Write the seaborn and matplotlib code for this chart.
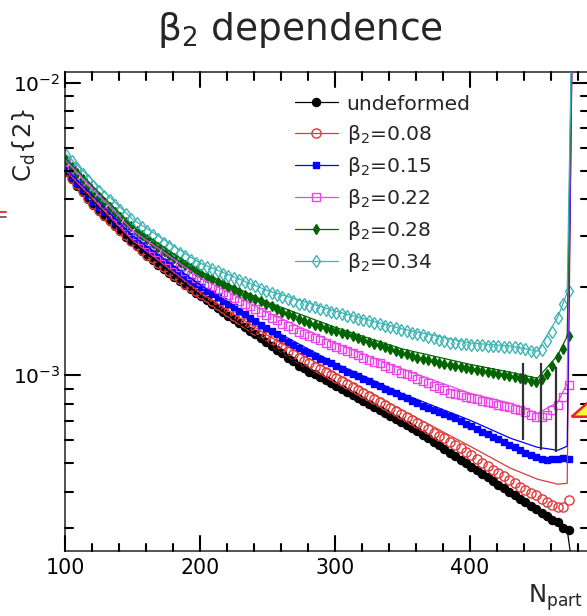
import numpy as np
import matplotlib
matplotlib.use("Agg")
import matplotlib.pyplot as plt
import seaborn as sns
from matplotlib.lines import Line2D
from matplotlib.patches import Polygon
from matplotlib.ticker import MultipleLocator, LogLocator, NullFormatter, LogFormatterMathtext

# ---------------- data (values in units of 1e-3) ----------------
npart = [101, 105, 109, 113, 117, 121, 125, 129, 133, 137, 141, 145, 149, 153, 157, 161,
         165, 169, 173, 177, 181, 185, 189, 193, 197, 201, 205, 209, 213, 217, 221, 225,
         229, 233, 237, 241, 245, 249, 253, 257, 261, 265, 269, 273, 277, 281, 285, 289,
         293, 297, 301, 305, 309, 313, 317, 321, 325, 329, 333, 337, 341, 345, 349, 353,
         357, 361, 365, 369, 373, 377, 381, 385, 389, 393, 397, 401, 405, 409, 413, 417,
         421, 425, 429, 433, 437, 441, 445, 449, 453, 457, 461, 465, 469, 473]

undeformed = [4.95, 4.70, 4.46, 4.23, 4.02, 3.82, 3.66, 3.52, 3.38, 3.24, 3.11, 2.98, 2.87, 2.76, 2.66, 2.57,
              2.48, 2.39, 2.31, 2.24, 2.17, 2.10, 2.04, 1.97, 1.92, 1.87, 1.81, 1.76, 1.70, 1.65, 1.60, 1.56,
              1.51, 1.46, 1.42, 1.38, 1.34, 1.30, 1.26, 1.22, 1.19, 1.15, 1.12, 1.08, 1.06, 1.03, 1.01, 0.985,
              0.962, 0.940, 0.918, 0.896, 0.875, 0.855, 0.835, 0.816, 0.797, 0.778, 0.760, 0.742, 0.725, 0.708, 0.691, 0.675,
              0.659, 0.644, 0.626, 0.609, 0.592, 0.576, 0.560, 0.544, 0.529, 0.514, 0.500, 0.486, 0.473, 0.460, 0.447, 0.435,
              0.423, 0.411, 0.400, 0.388, 0.378, 0.368, 0.358, 0.348, 0.339, 0.330, 0.321, 0.314, 0.300, 0.295]

beta008 = [4.99, 4.74, 4.50, 4.27, 4.05, 3.85, 3.69, 3.54, 3.40, 3.27, 3.13, 3.01, 2.89, 2.79, 2.69, 2.59,
           2.51, 2.42, 2.34, 2.27, 2.20, 2.13, 2.06, 2.00, 1.95, 1.90, 1.85, 1.80, 1.74, 1.70, 1.65, 1.60,
           1.56, 1.51, 1.47, 1.43, 1.40, 1.36, 1.32, 1.28, 1.25, 1.21, 1.18, 1.15, 1.12, 1.10, 1.07, 1.05,
           1.025, 1.00, 0.977, 0.955, 0.932, 0.911, 0.889, 0.869, 0.848, 0.828, 0.809, 0.790, 0.772, 0.754, 0.736, 0.719,
           0.702, 0.686, 0.669, 0.653, 0.637, 0.622, 0.608, 0.593, 0.578, 0.562, 0.546, 0.532, 0.517, 0.503, 0.490, 0.476,
           0.463, 0.451, 0.438, 0.427, 0.415, 0.404, 0.395, 0.389, 0.377, 0.368, 0.359, 0.354, 0.354, 0.374]

beta015 = [5.03, 4.78, 4.55, 4.33, 4.12, 3.93, 3.78, 3.63, 3.50, 3.36, 3.24, 3.11, 3.00, 2.90, 2.80, 2.70,
           2.62, 2.53, 2.45, 2.38, 2.31, 2.24, 2.17, 2.11, 2.06, 2.01, 1.95, 1.90, 1.85, 1.80, 1.76, 1.71,
           1.66, 1.62, 1.57, 1.53, 1.49, 1.45, 1.42, 1.38, 1.34, 1.30, 1.27, 1.24, 1.21, 1.19, 1.16, 1.14,
           1.12, 1.10, 1.075, 1.05, 1.03, 1.01, 0.994, 0.974, 0.955, 0.937, 0.919, 0.901, 0.884, 0.867, 0.850, 0.833,
           0.817, 0.801, 0.786, 0.774, 0.762, 0.751, 0.740, 0.728, 0.713, 0.698, 0.684, 0.670, 0.656, 0.642, 0.629, 0.617,
           0.604, 0.591, 0.579, 0.567, 0.555, 0.541, 0.533, 0.524, 0.516, 0.512, 0.516, 0.516, 0.520, 0.516]

beta022 = [5.35, 5.08, 4.83, 4.59, 4.36, 4.14, 3.97, 3.81, 3.66, 3.52, 3.38, 3.24, 3.12, 3.02, 2.91, 2.82,
           2.73, 2.64, 2.56, 2.48, 2.41, 2.34, 2.28, 2.21, 2.16, 2.11, 2.06, 2.02, 1.97, 1.93, 1.89, 1.84,
           1.80, 1.76, 1.72, 1.68, 1.65, 1.61, 1.57, 1.54, 1.50, 1.47, 1.44, 1.41, 1.38, 1.36, 1.34, 1.32,
           1.29, 1.27, 1.25, 1.23, 1.21, 1.19, 1.17, 1.15, 1.13, 1.11, 1.10, 1.08, 1.06, 1.04, 1.02, 1.01,
           0.991, 0.974, 0.955, 0.938, 0.921, 0.906, 0.889, 0.873, 0.864, 0.855, 0.846, 0.837, 0.828, 0.819, 0.810, 0.802,
           0.794, 0.785, 0.777, 0.769, 0.761, 0.747, 0.730, 0.718, 0.718, 0.730, 0.759, 0.790, 0.841, 0.924]

beta028 = [5.44, 5.17, 4.92, 4.68, 4.45, 4.23, 4.07, 3.91, 3.76, 3.62, 3.48, 3.34, 3.23, 3.12, 3.02, 2.92,
           2.83, 2.74, 2.66, 2.59, 2.52, 2.45, 2.38, 2.32, 2.27, 2.22, 2.17, 2.13, 2.09, 2.05, 2.01, 1.97,
           1.93, 1.89, 1.86, 1.82, 1.79, 1.75, 1.72, 1.68, 1.65, 1.62, 1.59, 1.56, 1.53, 1.51, 1.49, 1.47,
           1.45, 1.43, 1.42, 1.40, 1.38, 1.36, 1.34, 1.32, 1.30, 1.28, 1.27, 1.25, 1.23, 1.21, 1.19, 1.18,
           1.16, 1.15, 1.134, 1.124, 1.115, 1.106, 1.097, 1.088, 1.079, 1.071, 1.062, 1.054, 1.045, 1.036, 1.028, 1.020,
           1.012, 1.003, 0.995, 0.987, 0.979, 0.969, 0.954, 0.946, 0.969, 1.008, 1.074, 1.152, 1.228, 1.360]

beta034 = [5.66, 5.39, 5.14, 4.89, 4.66, 4.44, 4.28, 4.12, 3.97, 3.82, 3.68, 3.55, 3.43, 3.31, 3.21, 3.11,
           3.02, 2.93, 2.84, 2.76, 2.69, 2.62, 2.55, 2.48, 2.43, 2.39, 2.35, 2.31, 2.27, 2.23, 2.19, 2.16,
           2.12, 2.09, 2.05, 2.02, 1.98, 1.95, 1.92, 1.89, 1.85, 1.82, 1.79, 1.76, 1.75, 1.73, 1.71, 1.69,
           1.67, 1.65, 1.64, 1.62, 1.60, 1.58, 1.56, 1.55, 1.53, 1.51, 1.50, 1.48, 1.46, 1.45, 1.43, 1.42,
           1.40, 1.39, 1.37, 1.35, 1.34, 1.32, 1.31, 1.29, 1.29, 1.28, 1.28, 1.27, 1.27, 1.27, 1.26, 1.26,
           1.26, 1.25, 1.25, 1.25, 1.24, 1.23, 1.21, 1.20, 1.22, 1.31, 1.41, 1.57, 1.76, 1.95]

# thin curves (second set), units of 1e-3
npart_line = [101, 150, 200, 250, 300, 350, 400, 430, 450, 465, 472, 476.5]
undeformed_line = [4.95, 2.84, 1.88, 1.29, 0.923, 0.689, 0.490, 0.397, 0.345, 0.314, 0.296, 0.21]
beta008_line = [4.99, 2.90, 1.92, 1.37, 1.016, 0.759, 0.572, 0.481, 0.441, 0.424, 0.427, 30.0]
beta015_line = [5.07, 3.00, 2.04, 1.46, 1.10, 0.865, 0.702, 0.609, 0.567, 0.554, 0.572, 30.0]
beta022_line = [5.40, 3.13, 2.16, 1.64, 1.29, 1.05, 0.868, 0.802, 0.741, 0.808, 0.939, 30.0]
beta028_line = [5.48, 3.23, 2.27, 1.78, 1.46, 1.23, 1.09, 1.024, 0.977, 1.171, 1.360, 30.0]
beta034_line = [5.70, 3.42, 2.42, 1.95, 1.66, 1.44, 1.29, 1.26, 1.21, 1.58, 1.92, 30.0]

# vertical markers
vline_npart = [439, 452.5, 464]
vline_top = [1.10, 1.10, 1.065]
vline_bottom = [0.600, 0.554, 0.546]

labels = ["undeformed", "β$_{2}$=0.08", "β$_{2}$=0.15", "β$_{2}$=0.22", "β$_{2}$=0.28", "β$_{2}$=0.34"]

# ---------------- style ----------------
sns.set_theme(style="ticks")
plt.rcParams['font.family'] = ['DejaVu Sans']
plt.rcParams['mathtext.fontset'] = 'dejavusans'
plt.rcParams.update({"xtick.labelcolor": "black", "ytick.labelcolor": "black"})

W, H = 587, 616
AX_L, AX_R, AX_T, AX_B = 65, 588, 72, 551
fig = plt.figure(figsize=(W / 100, H / 100), dpi=100)
fig.patch.set_facecolor("white")
ax = fig.add_axes([AX_L / W, (H - AX_B) / H, (AX_R - AX_L) / W, (AX_B - AX_T) / H])
ax.set_facecolor("white")
ax.set_yscale("log")

styles = [
    (undeformed, undeformed_line, "#000000", "o", 5.8, True),
    (beta008, beta008_line, "#e03a3a", "o", 6.6, False),
    (beta015, beta015_line, "#0000ff", "s", 5.0, True),
    (beta022, beta022_line, "#e847e8", "s", 5.8, False),
    (beta028, beta028_line, "#006400", "d", 5.6, True),
    (beta034, beta034_line, "#40b4b4", "d", 6.2, False),
]

handles = []
for vals, lvals, color, marker, ms, filled in styles:
    mfc = color if filled else "none"
    sns.lineplot(x=npart, y=np.array(vals) * 1e-3, ax=ax, color=color, linestyle="none",
                 marker=marker, markersize=ms, markerfacecolor=mfc, markeredgecolor=color,
                 markeredgewidth=1.0, estimator=None, sort=False, legend=False, zorder=2)
    handles.append(Line2D([], [], color=color, lw=0.9, marker=marker, markersize=ms,
                          markerfacecolor=mfc, markeredgecolor=color, markeredgewidth=1.0))

for vals, lvals, color, marker, ms, filled in styles:
    sns.lineplot(x=npart_line, y=np.array(lvals) * 1e-3, ax=ax, color=color, linewidth=0.9,
                 estimator=None, sort=False, legend=False, zorder=3)

ax.vlines(vline_npart, np.array(vline_bottom) * 1e-3, np.array(vline_top) * 1e-3,
          colors="#333333", linewidth=1.6, zorder=4)

XLO, XHI = 100, 100 + 523 / 1.35
YLO, YHI = 2.505e-4, 1.091e-2
ax.set_xlim(XLO, XHI)
ax.set_ylim(YLO, YHI)
ax.set_autoscale_on(False)
ax.set_xlabel("")
ax.set_ylabel("")

ax.xaxis.set_major_locator(MultipleLocator(100))
ax.xaxis.set_minor_locator(MultipleLocator(20))
ax.yaxis.set_major_locator(LogLocator(base=10))
ax.yaxis.set_major_formatter(LogFormatterMathtext())
ax.yaxis.set_minor_locator(LogLocator(base=10, subs=np.arange(2, 10)))
ax.yaxis.set_minor_formatter(NullFormatter())

# built-in tick marks hidden; ROOT-style inward ticks on all four sides drawn as lines
ax.tick_params(axis="both", which="both", direction="in", length=0)
ax.tick_params(axis="x", which="major", labelsize=14.8, pad=5)
ax.tick_params(axis="y", which="major", labelsize=14.5, pad=3.6)
for s in ax.spines.values():
    s.set_linewidth(1.1)
    s.set_color("#222222")

ax.legend(handles, labels, loc="upper left", bbox_to_anchor=(0.4398, 0.9530), frameon=False,
          fontsize=14.6, handlelength=2.1, handletextpad=0.45, labelspacing=0.45,
          borderpad=0, borderaxespad=0)

fig.text(300 / W, 1 - 40 / H, "β$_{2}$ dependence", ha="center", va="baseline", fontsize=27)
fig.text(24 / W, 1 - 145 / H, r"C$_{\mathregular{d}}${2}", rotation=90, ha="center",
         va="center", fontsize=17.5)
fig.text(583 / W, 1 - 603 / H, r"N$_{\mathregular{part}}$", ha="right", va="baseline", fontsize=17.5)

# decorations cut from neighbouring panels
fig.add_artist(Line2D([0, 6 / W], [1 - 211.7 / H] * 2, color="#e04040", lw=1.5,
                      transform=fig.transFigure))
fig.add_artist(Line2D([0, 6 / W], [1 - 216.7 / H] * 2, color="#555555", lw=1.2,
                      transform=fig.transFigure))
tri = Polygon([[571.7 / W, 1 - 416.7 / H], [590 / W, 1 - 400.7 / H], [590 / W, 1 - 416.7 / H]],
              closed=True, facecolor="#ffff33", edgecolor="#ee2222", lw=1.8,
              transform=fig.transFigure, clip_on=False, zorder=10)
fig.add_artist(tri)

# tick marks, positions taken from the axis locators
ax_h = AX_B - AX_T
ax_w = AX_R - AX_L
xmaj = [float(v) for v in ax.xaxis.get_majorticklocs() if XLO <= v <= XHI]
xmin_ = [float(v) for v in ax.xaxis.get_minorticklocs() if XLO <= v <= XHI]
ymaj = [float(v) for v in ax.yaxis.get_majorticklocs() if YLO <= v <= YHI]
ymin_ = [float(v) for v in ax.yaxis.get_minorticklocs() if YLO <= v <= YHI]
xt = ax.get_xaxis_transform()
yt = ax.get_yaxis_transform()
tick_kw = dict(color="black", lw=1.5, clip_on=False, zorder=6)
for v, L in [(v, 15 / ax_h) for v in xmaj] + [(v, 7.5 / ax_h) for v in xmin_]:
    ax.add_line(Line2D([v, v], [0, L], transform=xt, **tick_kw))
    ax.add_line(Line2D([v, v], [1, 1 - L], transform=xt, **tick_kw))
for v, L in [(v, 15 / ax_w) for v in ymaj] + [(v, 7.5 / ax_w) for v in ymin_]:
    ax.add_line(Line2D([0, L], [v, v], transform=yt, **tick_kw))
    ax.add_line(Line2D([1, 1 - L], [v, v], transform=yt, **tick_kw))

fig.savefig("out.png", dpi=100)
